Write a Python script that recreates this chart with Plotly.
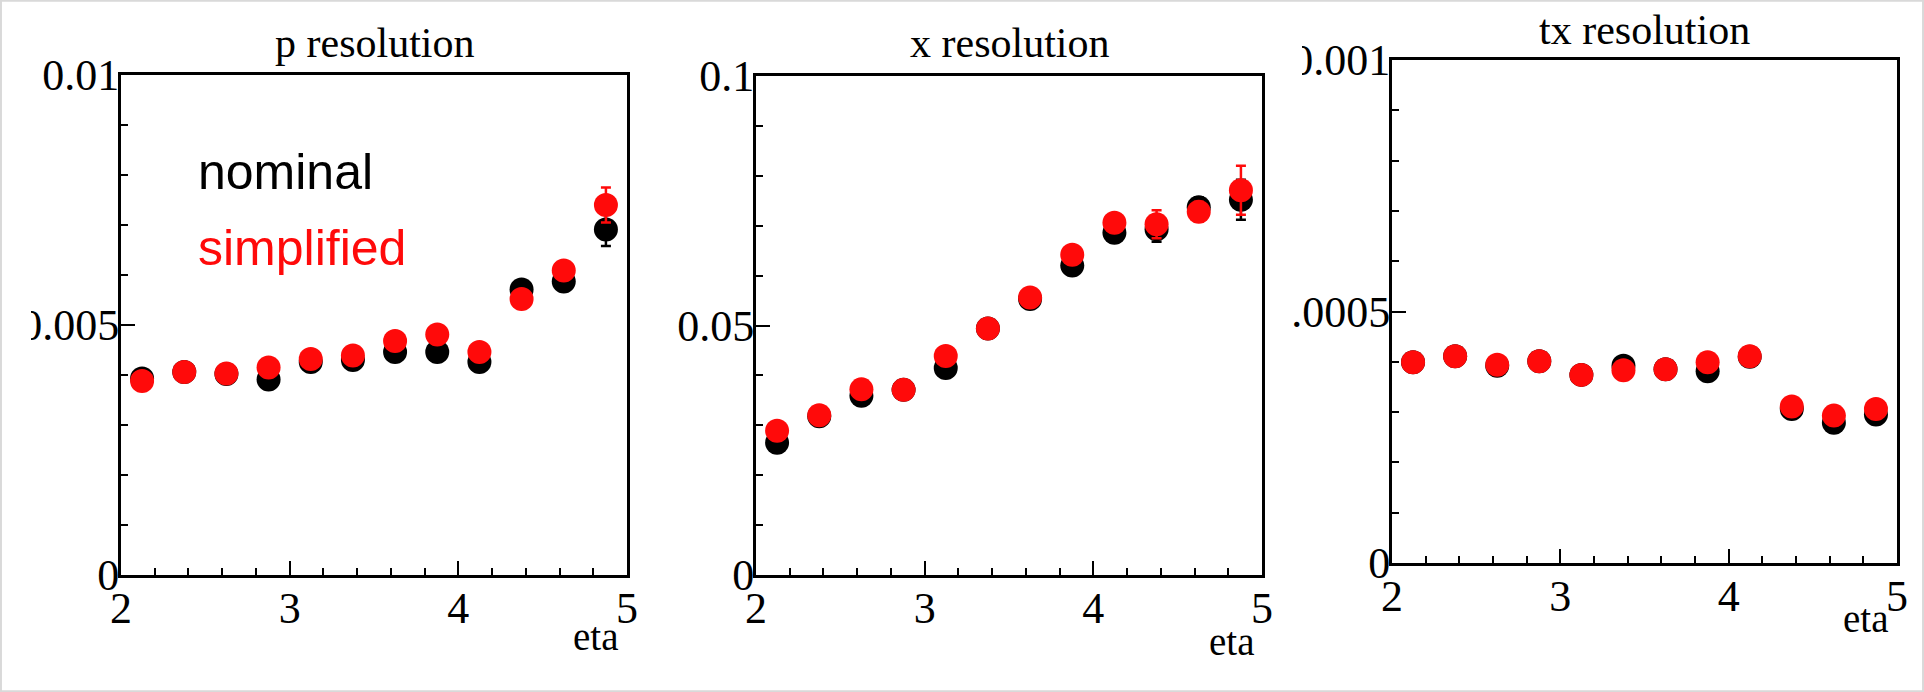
import plotly.graph_objects as go

W, H = 1924, 692

# eta bin centres (12 bins of 0.25 between 2 and 5)
eta = [2.125, 2.375, 2.625, 2.875, 3.125, 3.375, 3.625, 3.875, 4.125, 4.375, 4.625, 4.875]

# momentum resolution
p_nominal = [0.00393, 0.00406, 0.00402, 0.00391, 0.00426, 0.00430, 0.00446, 0.00446, 0.00426, 0.00571, 0.00587, 0.00691]
p_nominal_err = [0.00005, 0.00005, 0.00005, 0.00005, 0.00005, 0.00006, 0.00006, 0.00007, 0.00007, 0.00010, 0.00012, 0.00033]
p_simplified = [0.00388, 0.00406, 0.00403, 0.00415, 0.00432, 0.00439, 0.00468, 0.00481, 0.00446, 0.00552, 0.00609, 0.00740]
p_simplified_err = [0.00005, 0.00005, 0.00005, 0.00005, 0.00005, 0.00006, 0.00006, 0.00007, 0.00007, 0.00010, 0.00012, 0.00035]

# position resolution
x_nominal = [0.0265, 0.0318, 0.0359, 0.0371, 0.0415, 0.0494, 0.0553, 0.0620, 0.0686, 0.0693, 0.0737, 0.0752]
x_nominal_err = [0.0005, 0.0005, 0.0005, 0.0005, 0.0006, 0.0006, 0.0007, 0.0008, 0.0010, 0.0025, 0.0020, 0.0040]
x_simplified = [0.0289, 0.0320, 0.0372, 0.0371, 0.0439, 0.0494, 0.0556, 0.0642, 0.0706, 0.0703, 0.0728, 0.0771]
x_simplified_err = [0.0005, 0.0005, 0.0005, 0.0005, 0.0006, 0.0006, 0.0007, 0.0008, 0.0010, 0.0028, 0.0020, 0.0049]

# slope resolution
tx_nominal = [0.000399, 0.000411, 0.000392, 0.000401, 0.000374, 0.000392, 0.000385, 0.000381, 0.000410, 0.000306, 0.000279, 0.000295]
tx_nominal_err = [0.000005] * 12
tx_simplified = [0.000399, 0.000411, 0.000394, 0.000401, 0.000374, 0.000383, 0.000385, 0.000399, 0.000411, 0.000311, 0.000293, 0.000306]
tx_simplified_err = [0.000005] * 12

titles = ["p resolution", "x resolution", "tx resolution"]
y_max = [0.01, 0.1, 0.001]
y_tickvals = [[0, 0.005, 0.01], [0, 0.05, 0.1], [0, 0.0005, 0.001]]
y_ticktext = [["0", "0.005", "0.01"], ["0", "0.05", "0.1"], ["0", "0.0005", "0.001"]]
y_minor = [0.001, 0.01, 0.0001]
x_tickvals = [2, 3, 4, 5]
x_ticktext = ["2", "3", "4", "5"]

series = [
    (p_nominal, p_nominal_err, p_simplified, p_simplified_err),
    (x_nominal, x_nominal_err, x_simplified, x_simplified_err),
    (tx_nominal, tx_nominal_err, tx_simplified, tx_simplified_err),
]

# pad frames in pixels: left, right, top, bottom
frames = [(121, 627, 75, 575), (756, 1262, 76, 575), (1392, 1897, 60, 563)]
title_y = [43, 43, 30]
eta_pos = [(620, 636), (1256, 641), (1890, 618)]

SERIF = "Liberation Serif, Times New Roman, serif"
SANS = "Liberation Sans, Arial, sans-serif"
RED = "#ff0a0a"


def px(x):
    return x / W


def py(y):
    return 1 - y / H


fig = go.Figure()

for i, (nom, nom_err, sim, sim_err) in enumerate(series):
    n = i + 1
    xa = "x" if n == 1 else f"x{n}"
    ya = "y" if n == 1 else f"y{n}"
    for vals, errs, col in ((nom, nom_err, "black"), (sim, sim_err, RED)):
        fig.add_trace(go.Scatter(
            x=eta, y=vals, mode="markers", xaxis=xa, yaxis=ya,
            marker=dict(symbol="circle", size=24, color=col, line=dict(width=0)),
            error_y=dict(type="data", array=errs, visible=True, color=col,
                         thickness=2.5, width=5),
            showlegend=False, hoverinfo="x+y",
        ))

    l, r, t, b = frames[i]
    tick_font = dict(family=SERIF, size=44, color="black")
    fig.layout[f"xaxis{'' if n == 1 else n}"] = dict(
        domain=[px(l), px(r)], anchor=ya, range=[2, 5], automargin=False,
        tickmode="array", tickvals=x_tickvals, ticktext=x_ticktext,
        ticks="inside", ticklen=14, tickwidth=2, tickcolor="black",
        minor=dict(tickmode="linear", tick0=2, dtick=0.2, ticks="inside",
                   ticklen=7, tickwidth=2, tickcolor="black", showgrid=False),
        showline=True, mirror=True, linecolor="black", linewidth=3,
        showgrid=False, zeroline=False, tickfont=tick_font,
        ticklabelstandoff=-8, fixedrange=True,
    )
    fig.layout[f"yaxis{'' if n == 1 else n}"] = dict(
        domain=[py(b), py(t)], anchor=xa, range=[0, y_max[i]], automargin=False,
        tickmode="array", tickvals=y_tickvals[i], ticktext=y_ticktext[i],
        ticks="inside", ticklen=14, tickwidth=2, tickcolor="black",
        minor=dict(tickmode="linear", tick0=0, dtick=y_minor[i], ticks="inside",
                   ticklen=7, tickwidth=2, tickcolor="black", showgrid=False),
        showline=True, mirror=True, linecolor="black", linewidth=3,
        showgrid=False, zeroline=False, tickfont=tick_font,
        ticklabelstandoff=-10, fixedrange=True,
    )

    fig.add_annotation(text=titles[i], xref="paper", yref="paper",
                       x=px((l + r) / 2), y=py(title_y[i]), xanchor="center", yanchor="middle",
                       showarrow=False, font=dict(family=SERIF, size=42, color="black"))
    ex, ey = eta_pos[i]
    fig.add_annotation(text="eta", xref="paper", yref="paper",
                       x=px(ex), y=py(ey), xanchor="right", yanchor="middle",
                       showarrow=False, font=dict(family=SERIF, size=39, color="black"))

# legend text inside the first pad
fig.add_annotation(text="nominal", xref="paper", yref="paper", x=px(196), y=py(172),
                   xanchor="left", yanchor="middle", showarrow=False,
                   font=dict(family=SANS, size=50, color="black"))
fig.add_annotation(text="simplified", xref="paper", yref="paper", x=px(196), y=py(248),
                   xanchor="left", yanchor="middle", showarrow=False,
                   font=dict(family=SANS, size=50, color=RED))

# pad edges clip the long y labels of the first and third pads
for x0, x1, y_top, y_bot in [(0, 31, 40, 380), (1266, 1302, 28, 100), (1266, 1291, 275, 350)]:
    fig.add_shape(type="rect", xref="paper", yref="paper", x0=px(x0), x1=px(x1),
                  y0=py(y_bot), y1=py(y_top),
                  fillcolor="white", line=dict(width=0), layer="above")

# thin canvas border
fig.add_shape(type="rect", xref="paper", yref="paper", x0=0.0005, x1=0.9995, y0=0.001, y1=0.999,
              fillcolor="rgba(0,0,0,0)", line=dict(color="#d9d9d9", width=2), layer="above")

fig.update_layout(
    template="none",
    width=W, height=H, margin=dict(l=0, r=0, t=0, b=0, autoexpand=False),
    paper_bgcolor="white", plot_bgcolor="white", showlegend=False,
)

fig.write_html("out.html", config={"displayModeBar": False})
